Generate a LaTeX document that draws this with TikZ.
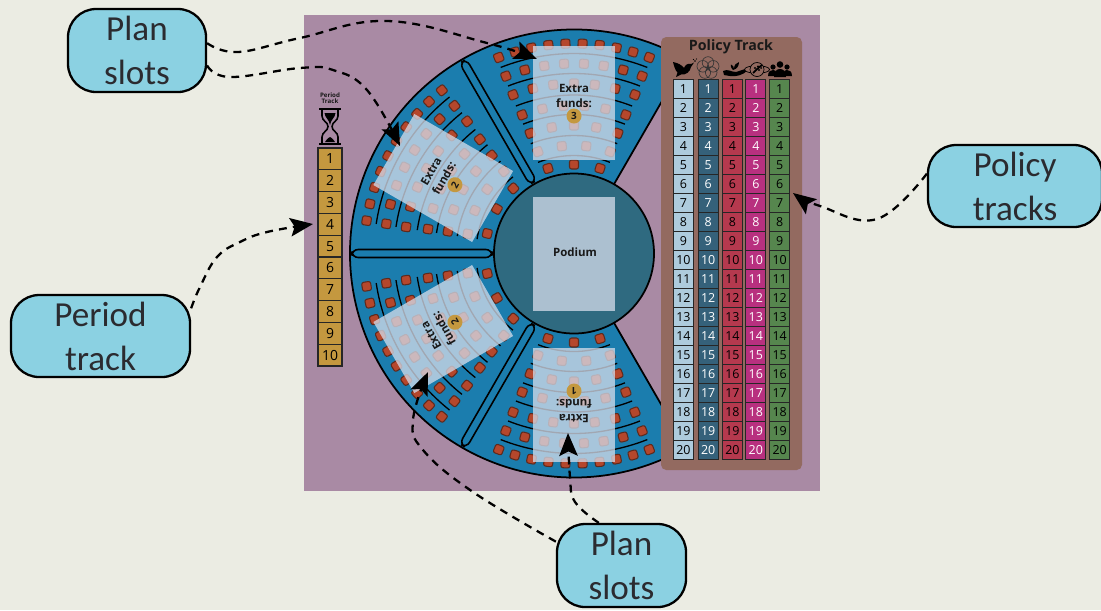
\documentclass[tikz,border=0pt]{standalone}
\usepackage{fontspec}
\setmainfont{Open Sans}
\newfontfamily\calloutfont{Carlito}
\usetikzlibrary{arrows.meta}
\newcommand\pxs[1]{\fontsize{\fpeval{#1*0.5669}}{\fpeval{#1*0.68}}\selectfont}
\definecolor{bgc}{HTML}{EBECE3}
\definecolor{purp}{HTML}{A98AA4}
\definecolor{fan}{HTML}{1B7DAE}
\definecolor{pod}{HTML}{2F6A80}
\definecolor{panel}{HTML}{936A60}
\definecolor{gold}{HTML}{C4983F}
\definecolor{seatc}{HTML}{B5472C}
\definecolor{seatl}{HTML}{5E2A1D}
\definecolor{call}{HTML}{8BD1E2}
\definecolor{ctext}{HTML}{2B2B30}
\definecolor{veil}{HTML}{D4DCEA}
\definecolor{c1}{HTML}{AECBDD}
\definecolor{c2}{HTML}{35617A}
\definecolor{c3}{HTML}{B5394E}
\definecolor{c4}{HTML}{B8307F}
\definecolor{c5}{HTML}{56864E}
\tikzset{
  callout/.style={draw=black,line width=1.3pt,fill=call,rounded corners=16pt,inner sep=0pt,
    text=ctext,align=center,font=\calloutfont\fontsize{20}{25}\selectfont},
  conn/.style={draw=black,line width=1.3pt,dash pattern=on 4.5pt off 3.5pt,
    -{Stealth[length=13pt,width=10.5pt,inset=2.5pt]}},
  ptcell/.style={draw=black!85,line width=.6pt,fill=gold,minimum width=24*0.02cm,minimum height=21.8*0.02cm,
    inner sep=0pt,font=\pxs{14}},
  polcell/.style={draw=black!85,line width=.7pt,minimum width=20*0.02cm,minimum height=19*0.02cm,
    inner sep=0pt,font=\pxs{12.5}},
  seat/.style={draw=seatl,line width=.6pt,fill=seatc,rounded corners=1.2pt},
  rowarc/.style={draw=black,line width=.75pt},
  overlay/.style={fill=veil,fill opacity=.76},
  boldtext/.style={font=\bfseries\pxs{#1},inner sep=0pt,align=center,text=black!90},
}
\begin{document}
\begin{tikzpicture}[x=0.02cm,y=-0.02cm]
\useasboundingbox (0,0) rectangle (1101,610);
\fill[bgc] (0,0) rectangle (1101,610);
\fill[purp] (304,15) rectangle (820,491);
% fan
\begin{scope}[shift={(574,253.5)},y=0.02cm]
  \draw[fill=fan,line width=1pt] (60:80) -- (60:224) arc (60:300:224) -- (300:80) -- cycle;
  \foreach \t in {0,60,120,180}{
    \begin{scope}[rotate=\t]
      \foreach \r/\n/\h in {210/10/21,190/8/21,170/7/21,148/6/20.5,128/5/20,108/4/19.5,89/3/17}{
        \pgfmathsetmacro\st{2*\h/(\n-1)}
        \foreach \k in {1,...,\n}{
          \pgfmathsetmacro\ang{\h-(\k-1)*\st}
          \begin{scope}[rotate=\ang]
            \draw[seat] (-4.5,\r-4.5) rectangle (4.5,\r+4.5);
          \end{scope}
        }
      }
      \foreach \r in {200,180,158.5,139,118,98}{
        \draw[rowarc] (68.5:\r) arc (68.5:111.5:\r);
      }
    \end{scope}
  }
  \foreach \t in {120,180,240}{
    \begin{scope}[rotate=\t]
      \draw[fill=fan,line width=.9pt,rounded corners=3.5] (82,-4) rectangle (222,4);
    \end{scope}
  }
  \foreach \t/\v in {0/3,60/2,120/2,180/1}{
    \begin{scope}[rotate=\t]
      \fill[overlay] (-41,94) rectangle (41,208);
      \node[boldtext=11.5,rotate=\t] (extra\t) at (0,157.5) {Extra\\[.6pt]funds:};
      \node[circle,fill=gold,minimum size=15*0.02cm,inner sep=0pt,boldtext=10,rotate=\t] (num\t) at (0,137.5) {\v};
    \end{scope}
  }
  \draw[fill=pod,line width=1pt] (0,0) circle (80);
\end{scope}
\fill[overlay] (533,197) rectangle (615,311);
\node[boldtext=11.5] (podium) at (575,252) {Podium};
% period track
\node[boldtext=6.2] (ptlabel) at (330,98.5) {Period\\[-.8pt]Track};
\draw[line width=1pt] (319,109) -- (341,109) (319,144) -- (341,144);
\draw[line width=.9pt] (322,109) -- (322,116) .. controls (322,121) and (328,122) .. (328,126.5)
  .. controls (328,131) and (322,132) .. (322,137) -- (322,144)
  (338,109) -- (338,116) .. controls (338,121) and (332,122) .. (332,126.5)
  .. controls (332,131) and (338,132) .. (338,137) -- (338,144);
\fill (324.5,113) -- (335.5,113) .. controls (335,118) and (331,119) .. (330,125) .. controls (329,119) and (325,118) .. (324.5,113) -- cycle;
\fill (325,142) .. controls (327,139) and (329,137) .. (330,137) .. controls (331,137) and (333,139) .. (335,142) -- cycle;
\foreach \i in {1,...,10}{
  \node[ptcell] (pt\i) at (330,148+21.8*\i-10.9) {\i};
}
% policy panel
\fill[panel,rounded corners=3pt] (661,37) rectangle (802,470);
\node[boldtext=14.3] (poltitle) at (731,47) {Policy Track};
\foreach \cx/\fc/\tc/\nm in {683.4/c1/black/a,708.2/c2/white/b,732.4/c3/black/c,755.8/c4/white/d,779.7/c5/black/e}{
  \foreach \i in {1,...,20}{
    \node[polcell,fill=\fc,text=\tc] (pol\nm\i) at (\cx,89.3+19*\i-19) {\i};
  }
}
% icons
\fill (673,62) .. controls (678,63) and (682,65) .. (684,68) .. controls (685,65) and (688,63) .. (691,64) -- (694,62.5) -- (691,67)
  .. controls (690,72) and (686,75) .. (681,74.5) -- (676,77) -- (677.5,72.5) .. controls (675,70) and (674,66) .. (673,62) -- cycle;
\fill (695,61) circle (.8) (693.5,59.5) circle (.6) (696.5,59) circle (.6);
\begin{scope}[line width=.35pt,draw=black!80]
  \draw (708,62.5) circle (5.8) (713.2,66.3) circle (5.8) (711.2,72.5) circle (5.8) (704.8,72.5) circle (5.8) (702.8,66.3) circle (5.8);
\end{scope}
\fill (723,71) .. controls (728,68.5) and (731,72) .. (736,72) -- (745,69) .. controls (747,68.5) and (748,69.5) .. (747.5,70.5) .. controls (743,75) and (736,77) .. (730,76) -- (724,75) -- cycle;
\fill (733,70) .. controls (730,67) and (731,65) .. (731,64.5) .. controls (733,65) and (734,67) .. (734,69) .. controls (734,65) and (736,63) .. (739,62) .. controls (739,66) and (737,69) .. (733,70) -- cycle;
\draw[line width=.4pt,fill=panel] (757,69.5) ellipse (12.5 and 3.8);
\draw[line width=.4pt,fill=panel] (757,69.5) circle (7);
\draw[line width=1pt] (753,73) .. controls (756,70) and (758,68) .. (762,65);
\fill (755,68) circle (1.2) (758,66.5) circle (1.2) (759,70) circle (1.2) (761,68) circle (1);
\fill (773,67) circle (2.6) (787,67) circle (2.6) (780,64.5) circle (3.3);
\fill (768,76) .. controls (768,71) and (771,70) .. (773,70) .. controls (775,70) and (776,71) .. (776,72) -- (784,72) .. controls (784,71) and (785,70) .. (787,70) .. controls (789,70) and (792,71) .. (792,76) -- cycle;
\fill (774,77) .. controls (774,71) and (777,69) .. (780,69) .. controls (783,69) and (786,71) .. (786,77) -- cycle;
% callouts
\node[callout,minimum width=138*0.02cm,minimum height=83*0.02cm] (plantl) at (137,50.5) {Plan\\slots};
\node[callout,minimum width=179*0.02cm,minimum height=82*0.02cm] (period) at (100.5,336) {Period\\track};
\node[callout,minimum width=174*0.02cm,minimum height=82*0.02cm] (policy) at (1015,186) {Policy\\tracks};
\node[callout,minimum width=129*0.02cm,minimum height=83*0.02cm] (planbm) at (621.5,565.5) {Plan\\slots};
% connectors
\coordinate (t1) at (537,59);
\coordinate (t2) at (400,146);
\coordinate (t3) at (313,224);
\coordinate (t4) at (793,193);
\coordinate (t5) at (428,372);
\coordinate (t6) at (568,433);
\draw[conn] plot[smooth,tension=.7] coordinates {(plantl.6) (238,52) (300,38) (387,21) (487,43) (t1)};
\draw[conn] plot[smooth,tension=.7] coordinates {(plantl.-12) (230,77) (300,68) (333,70) (367,90) (t2)};
\draw[conn] plot[smooth,tension=.7] coordinates {(period.17) (200,287) (217,257) (240,242) (267,232) (t3)};
\draw[conn] plot[smooth,tension=.7] coordinates {(policy.172) (877,219) (820,206) (t4)};
\draw[conn] plot[smooth,tension=.7] coordinates {(planbm.160) (473,492) (423,450) (413,420) (t5)};
\draw[conn] plot[smooth,tension=.7] coordinates {(planbm.118) (575,502) (570,477) (t6)};
\end{tikzpicture}
\end{document}
